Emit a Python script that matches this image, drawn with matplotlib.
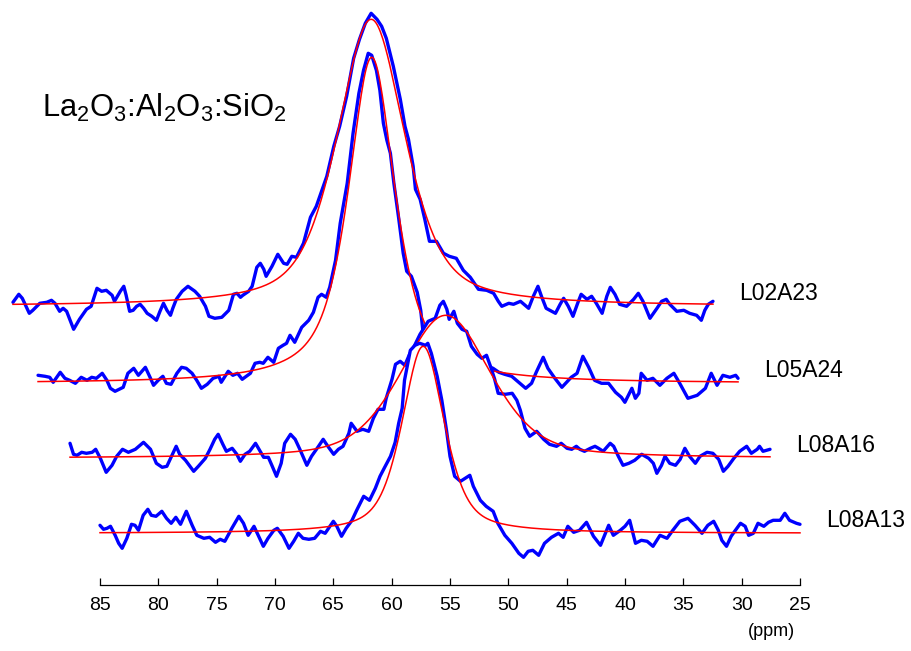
import numpy as np
import matplotlib
matplotlib.use('Agg')
from matplotlib import pyplot as plt

plt.rcParams['font.family'] = ['Liberation Sans', 'DejaVu Sans']
plt.rcParams['mathtext.fontset'] = 'custom'
plt.rcParams['mathtext.rm'] = 'Liberation Sans'
plt.rcParams['mathtext.it'] = 'Liberation Sans:italic'
plt.rcParams['mathtext.bf'] = 'Liberation Sans:bold'

samples = ['L02A23', 'L05A24', 'L08A16', 'L08A13']
ppm_shift = [7.46, 5.31, 2.57, 0.0]      # stack offset along the ppm axis
intensity_offset = [227, 150, 75, 0]     # stack offset in intensity

# pseudo-Voigt fits: centre (ppm), fwhm (ppm), height, lorentzian fraction
fit_center = [54.3, 56.4, 52.8, 57.3]
fit_fwhm = [6.9, 4.8, 9.1, 4.3]
fit_height = [287, 326, 143, 187]
fit_eta = [0.55, 0.75, 0.4, 0.55]

l02a23_ppm = [85.0, 84.5, 84.2, 83.6, 83.3, 82.7, 82.1, 81.7, 81.4, 81.0,
              80.7, 80.4, 79.8, 79.3, 78.7, 78.3, 77.8, 77.4, 77.0, 76.5,
              76.3, 75.8, 75.5, 75.3, 75.0, 74.7, 74.4, 74.1, 73.8, 73.5,
              73.1, 72.7, 72.4, 72.1, 71.8, 71.5, 71.3, 71.0, 70.5, 70.0,
              69.4, 69.0, 68.5, 68.2, 67.7, 67.1, 66.5, 66.1, 65.8, 65.5,
              65.3, 64.8, 64.5, 64.1, 63.8, 63.5, 63.3, 62.8, 62.3, 61.8,
              61.5, 61.1, 60.7, 60.1, 59.5, 59.0, 58.1, 57.5, 57.0, 56.4,
              55.8, 55.3, 54.8, 54.3, 53.8, 53.4, 53.0, 52.4, 51.8, 51.4,
              51.1, 50.7, 50.5, 50.1, 49.7, 49.3, 48.7, 48.1, 47.6, 47.0,
              46.4, 45.8, 45.1, 44.4, 43.8, 43.4, 43.1, 42.5, 42.1, 41.5,
              40.8, 40.4, 40.0, 39.7, 39.3, 38.5, 38.1, 37.8, 37.4, 37.0,
              36.6, 36.3, 35.8, 35.4, 35.0, 34.5, 34.1, 33.8, 33.4, 33.0,
              32.4, 31.8, 31.4, 31.0, 30.4, 29.8, 29.4, 29.0, 28.7, 28.1,
              27.5, 27.0, 26.4, 26.0, 25.7, 25.4, 25.0]
l02a23_int = [4, 12, 8, -7, -4, 3, 4, 6, 3, -5,
              -2, -5, -23, -13, -3, 0, 18, 15, 16, 11,
              5, 15, 20, 11, -5, -4, 0, 2, -2, -7,
              -10, -14, -5, 3, -4, -9, -2, 7, 15, 20,
              15, 10, 0, -10, -12, -11, -4, 12, 13, 9,
              11, 15, 20, 39, 43, 37, 30, 40, 52, 43,
              42, 50, 49, 63, 89, 100, 130, 160, 180, 210,
              248, 267, 283, 293, 287, 280, 268, 240, 207, 180,
              167, 140, 117, 107, 87, 65, 65, 53, 50, 48,
              36, 29, 17, 16, 13, 5, 0, 3, 2, 5,
              -2, 10, 20, 10, -2, -7, 2, 8, 0, -10,
              3, 12, 7, 10, 3, -7, 10, 19, 12, 2,
              0, 7, 13, 5, -12, -2, 5, 7, 2, -5,
              -4, -7, -9, -14, -4, 2, 5]

l05a24_ppm = [85.0, 84.4, 84.0, 83.7, 83.1, 82.7, 82.3, 81.8, 81.3, 80.8,
              80.4, 80.0, 79.5, 79.1, 78.8, 78.4, 77.7, 77.3, 76.8, 76.4,
              75.8, 75.4, 75.1, 74.7, 74.3, 74.0, 73.6, 73.1, 72.7, 72.3,
              71.8, 71.4, 71.0, 70.5, 70.0, 69.5, 69.3, 68.7, 68.3, 67.9,
              67.5, 66.8, 66.4, 66.0, 65.7, 65.3, 64.8, 64.4, 64.0, 63.7,
              63.4, 63.0, 62.4, 61.8, 61.4, 61.0, 60.7, 60.3, 60.0, 59.5,
              59.1, 58.5, 58.0, 57.5, 57.1, 56.7, 56.4, 56.0, 55.7, 55.4,
              55.1, 54.8, 54.5, 54.1, 53.7, 53.4, 53.0, 52.5, 52.2, 52.0,
              50.5, 48.8, 47.1, 46.0, 45.5, 45.0, 44.4, 43.8, 43.2, 42.7,
              42.3, 41.7, 41.3, 40.7, 40.1, 39.7, 39.3, 38.8, 38.3, 37.8,
              37.3, 36.7, 36.1, 35.5, 35.0, 34.7, 34.4, 34.1, 33.8, 33.5,
              33.3, 32.8, 32.3, 31.7, 31.1, 30.5, 30.0, 29.3, 28.5, 27.8,
              27.3, 26.8, 26.3, 25.7, 25.2, 25.0]
l05a24_int = [8, 7, 6, 1, 11, 5, 3, 0, 6, 3,
              6, 5, 10, 3, -5, -8, -4, 10, 15, 8,
              16, 6, -2, 3, 7, 0, -1, 10, 16, 15,
              10, 3, -5, -1, 5, 7, 1, 12, 8, 10,
              4, 10, 20, 21, 20, 26, 21, 35, 38, 40,
              48, 41, 56, 63, 71, 86, 89, 86, 96, 123,
              160, 200, 250, 290, 313, 330, 328, 313, 293, 260,
              243, 230, 200, 166, 130, 112, 107, 91, 73, 51,
              43, 31, 20, 15, 11, 9, 7, 1, -5, 0,
              11, 26, 15, 5, -4, 1, 6, 10, 27, 16,
              3, 0, 0, -9, -14, -19, -12, -5, -15, -10,
              10, 3, 5, -2, 5, 10, 0, -15, -12, -5,
              10, -2, 8, 6, 8, 5]

l08a16_ppm = [85.0, 84.7, 84.4, 84.0, 83.6, 83.1, 82.8, 82.4, 81.9, 81.4,
              81.0, 80.5, 80.0, 79.4, 78.7, 78.1, 77.6, 77.1, 76.7, 76.3,
              75.9, 75.6, 75.1, 74.4, 74.0, 73.4, 73.0, 72.6, 72.3, 71.9,
              71.6, 71.1, 70.7, 70.4, 70.0, 69.6, 69.1, 68.7, 68.4, 68.0,
              67.7, 67.3, 66.9, 66.6, 66.1, 65.7, 65.3, 64.7, 64.3, 63.7,
              63.3, 62.9, 62.4, 62.0, 61.6, 61.1, 60.9, 60.4, 59.9, 59.4,
              59.0, 58.6, 58.1, 57.9, 57.4, 57.1, 56.7, 56.3, 55.9, 55.5,
              55.0, 54.3, 53.7, 53.3, 53.0, 52.7, 52.5, 52.1, 51.8, 51.4,
              51.0, 50.6, 50.1, 49.7, 49.3, 48.9, 48.6, 48.3, 47.7, 47.1,
              46.7, 46.4, 46.0, 45.6, 45.0, 44.4, 43.9, 43.3, 42.9, 42.4,
              42.0, 41.6, 41.3, 40.9, 40.4, 40.0, 39.7, 39.3, 38.7, 38.4,
              38.0, 37.6, 37.1, 36.6, 36.0, 35.4, 35.0, 34.7, 34.3, 34.0,
              33.6, 33.1, 32.7, 32.3, 31.9, 31.4, 31.0, 30.4, 29.9, 29.4,
              29.0, 28.6, 28.1, 27.6, 27.0, 26.6, 26.1, 25.9, 25.6, 25.0]
l08a16_int = [15, 4, 3, 6, 5, 6, 9, 0, -14, -7,
              2, 9, 6, 9, 16, 9, -5, -9, -8, 2,
              12, 4, -2, -13, -8, 0, 9, 19, 24, 14,
              7, 10, 4, -3, 4, 7, 15, 7, 1, 1,
              -7, -18, -5, 15, 24, 19, 9, -7, 2, 12,
              19, 12, 4, 9, 12, 25, 35, 27, 29, 27,
              40, 49, 49, 60, 79, 94, 97, 93, 104, 112,
              124, 137, 140, 153, 157, 149, 139, 147, 135, 129,
              127, 112, 104, 100, 103, 90, 79, 65, 64, 65,
              58, 48, 30, 22, 27, 19, 14, 12, 15, 10,
              9, 12, 9, 7, 10, 12, 10, 7, 15, 12,
              2, -7, -5, -2, 4, 0, -5, -15, -7, 2,
              -5, -7, -1, 10, 2, -5, 2, 6, 5, -1,
              -13, -8, 0, 7, 12, 5, 9, 12, 7, 9]

l08a13_ppm = [85.0, 84.7, 84.4, 84.1, 83.7, 83.4, 83.1, 82.7, 82.3, 82.0,
              81.7, 81.3, 80.9, 80.6, 80.2, 79.7, 79.3, 78.9, 78.5, 78.1,
              77.6, 77.1, 76.7, 76.1, 75.6, 75.1, 74.7, 74.3, 73.7, 73.1,
              72.7, 72.3, 71.8, 71.4, 71.0, 70.6, 70.1, 69.8, 69.3, 68.8,
              68.4, 68.0, 67.6, 67.1, 66.6, 66.1, 65.7, 65.0, 64.7, 64.3,
              63.9, 63.4, 63.0, 62.4, 61.9, 61.4, 61.0, 60.6, 60.1, 59.7,
              59.4, 59.1, 58.9, 58.4, 58.0, 57.6, 57.1, 56.9, 56.6, 56.1,
              55.7, 55.3, 55.0, 54.6, 54.1, 53.7, 53.3, 53.0, 52.4, 51.9,
              51.3, 50.9, 50.3, 49.7, 49.1, 48.7, 48.3, 47.9, 47.4, 46.9,
              46.3, 45.7, 45.3, 44.9, 44.4, 43.9, 43.3, 42.7, 42.1, 41.4,
              41.0, 40.4, 40.0, 39.6, 39.1, 38.6, 38.1, 37.6, 37.0, 36.4,
              35.9, 35.3, 34.6, 34.0, 33.4, 32.9, 32.4, 32.0, 31.7, 31.3,
              30.9, 30.6, 30.1, 29.7, 29.4, 29.0, 28.6, 28.1, 27.7, 27.3,
              26.7, 26.3, 25.9, 25.3, 25.0]
l08a13_int = [8, 4, 5, 7, -2, -10, -15, -5, 9, 8,
              3, 18, 24, 18, 17, 22, 15, 10, 16, 9,
              22, 8, -2, -5, -4, -9, -6, -8, 5, 17,
              10, -2, 7, -3, -13, -5, 3, 5, -3, -15,
              -8, 0, -5, -6, -5, 2, 0, 12, 7, -3,
              5, 13, 23, 37, 33, 45, 57, 66, 77, 91,
              110, 125, 153, 183, 188, 190, 188, 190, 180, 157,
              133, 103, 77, 57, 52, 55, 58, 47, 33, 27,
              22, 10, -2, -10, -20, -24, -18, -17, -22, -10,
              -4, 0, -4, 7, 1, 3, 11, -3, -12, 8,
              -2, 3, 7, 13, -10, -7, -8, -13, -2, -5,
              3, 12, 15, 8, 0, 8, 12, 3, -7, -13,
              -3, 2, 10, 7, -2, 0, 10, 7, 11, 13,
              13, 20, 13, 10, 9]

spec_ppm = [l02a23_ppm, l05a24_ppm, l08a16_ppm, l08a13_ppm]
spec_int = [l02a23_int, l05a24_int, l08a16_int, l08a13_int]


def pseudo_voigt(x, center, fwhm, height, eta):
    u = (x - center) / (fwhm / 2)
    return height * (eta / (1 + u ** 2) + (1 - eta) * np.exp(-np.log(2) * u ** 2))


fig = plt.figure(figsize=(9.12, 6.51), dpi=100)
ax = fig.add_axes([100 / 912, 66 / 651, 700 / 912, 585 / 651])
ax.set_xlim(85, 25)
ax.set_ylim(-51.7, 533.3)

# back to front, each trace hides what lies below it
for i, name in enumerate(samples):
    x = np.array(spec_ppm[i]) + ppm_shift[i]
    y = np.array(spec_int[i]) + intensity_offset[i]
    xf = np.linspace(25, 85, 601)
    yf = pseudo_voigt(xf, fit_center[i], fit_fwhm[i], fit_height[i], fit_eta[i]) + intensity_offset[i]
    xf = xf + ppm_shift[i]
    floor = intensity_offset[i] - 40
    z = 3 + 3 * i
    ax.fill_between(x, y, floor, color='white', lw=0, zorder=z, clip_on=False)
    ax.fill_between(xf, yf, floor, color='white', lw=0, zorder=z, clip_on=False)
    ax.plot(x, y, color='#0000ff', lw=2.4, solid_joinstyle='round', solid_capstyle='round',
            zorder=z + 1, clip_on=False)
    ax.plot(xf, yf, color='#ff0000', lw=1.1, zorder=z + 2, clip_on=False)
    ax.text(22.8 + ppm_shift[i], intensity_offset[i] + 6.5, name, fontsize=16.5,
            ha='left', va='baseline')

ax.set_xticks(np.arange(85, 24, -5))
ax.set_yticks([])
ax.tick_params(axis='x', direction='in', length=5, width=0.9, labelsize=14, pad=9)
for side in ['top', 'left', 'right']:
    ax.spines[side].set_visible(False)
ax.spines['bottom'].set_linewidth(0.9)
ax.patch.set_visible(False)

fig.text(771 / 912, 1 - 632 / 651, '(ppm)', fontsize=13, ha='center', va='center')
fig.text(42 / 912, 1 - 117 / 651, r'La$_2$O$_3$:Al$_2$O$_3$:SiO$_2$', fontsize=22.2,
         ha='left', va='baseline')

fig.savefig('out.png', dpi=100)
